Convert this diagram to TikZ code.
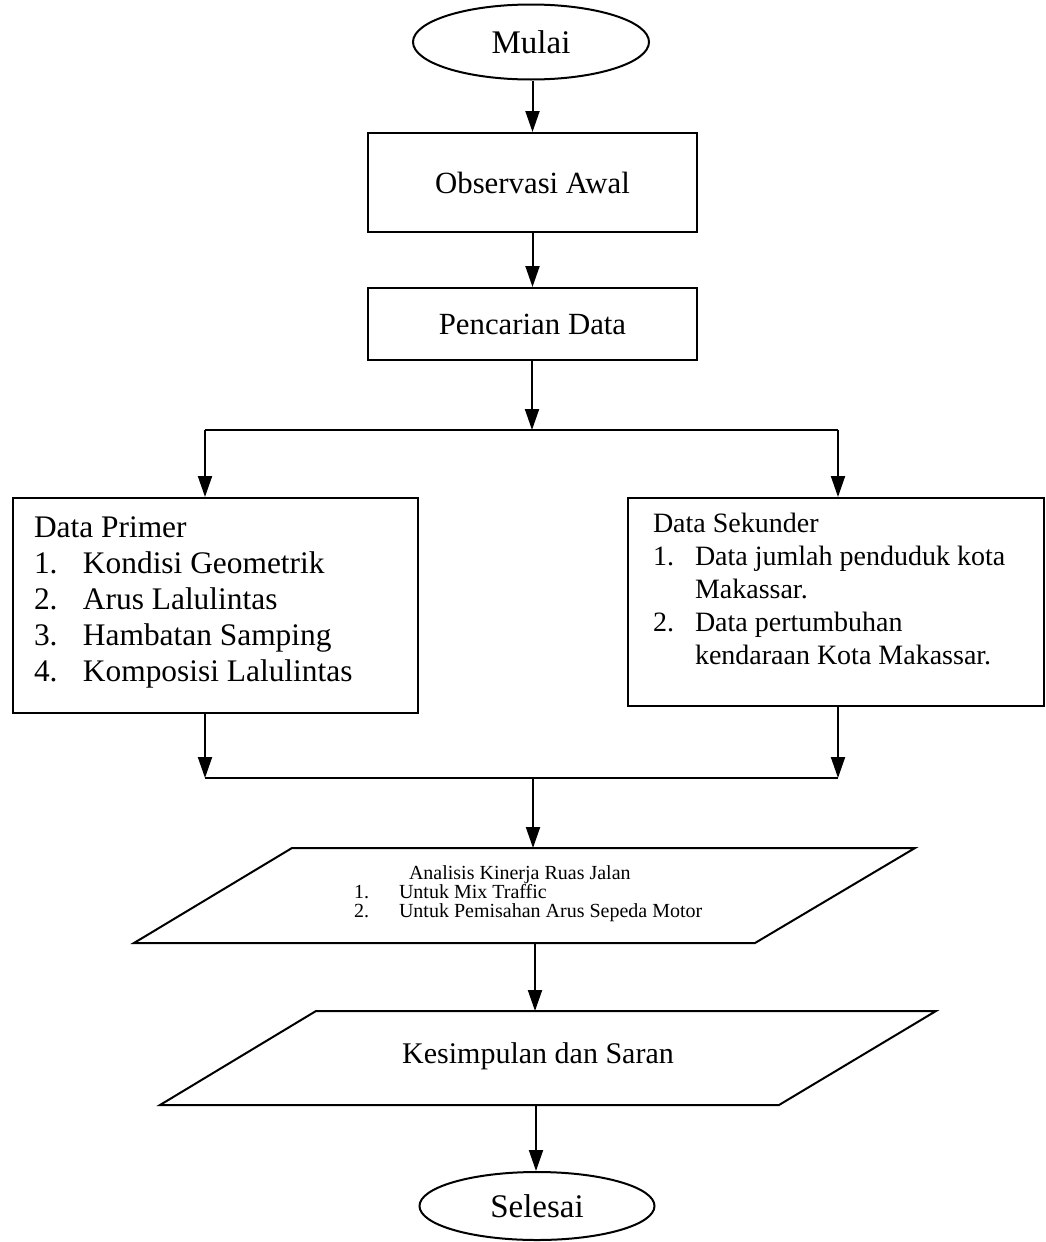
\documentclass[tikz,border=0pt]{standalone}
\usepackage{fontspec}
\setmainfont{Liberation Serif}
\usetikzlibrary{shapes.geometric,arrows.meta}
\begin{document}
\begin{tikzpicture}[x=0.5pt,y=-0.5pt,
  line width=1pt,
  arr/.style={-{Triangle[length=10.5pt,width=7pt]}},
  proc/.style={draw,rectangle,inner sep=0pt,font=\fontsize{15.4pt}{18.5pt}\selectfont},
  term/.style={draw,ellipse,inner sep=0pt,font=\fontsize{16.5pt}{19pt}\selectfont},
  para/.style={line join=miter},
  txt/.style={inner sep=0pt,align=left}
  ]
\useasboundingbox (0,0) rectangle (1045,1242);

% terminals and process boxes
\node[term,minimum width=118pt,minimum height=37.5pt] (mulai) at (531,42) {Mulai};
\node[proc,minimum width=164.5pt,minimum height=49.5pt] (obs) at (532.5,182.5) {Observasi Awal};
\node[proc,minimum width=164.5pt,minimum height=36pt] (pen) at (532.5,324) {Pencarian Data};

% data boxes
\node[proc,anchor=north west,minimum width=202.5pt,minimum height=107.5pt] (primer) at (12,497) {};
\node[txt,anchor=base west] (primertxt) at (33,537)
  {\fontsize{15.7pt}{18.1pt}\selectfont
   \begin{tabular}[t]{@{}l@{}l@{}}
   \multicolumn{2}{@{}l@{}}{Data Primer}\\
   \makebox[24.5pt][l]{1.} & Kondisi Geometrik\\
   \makebox[24.5pt][l]{2.} & Arus Lalulintas\\
   \makebox[24.5pt][l]{3.} & Hambatan Samping\\
   \makebox[24.5pt][l]{4.} & Komposisi Lalulintas
   \end{tabular}};

\node[proc,anchor=north west,minimum width=208pt,minimum height=104pt] (sekunder) at (627,497) {};
\node[txt,anchor=base west] (sekundertxt) at (652,532)
  {\fontsize{14pt}{16.5pt}\selectfont
   \begin{tabular}[t]{@{}l@{}l@{}}
   \multicolumn{2}{@{}l@{}}{Data Sekunder}\\
   \makebox[21pt][l]{1.} & Data jumlah penduduk kota\\
   & Makassar.\\
   \makebox[21pt][l]{2.} & Data pertumbuhan\\
   & kendaraan Kota Makassar.
   \end{tabular}};

% parallelogram 1
\coordinate (p1tl) at (292,848);
\coordinate (p1tr) at (915,848);
\coordinate (p1br) at (755,943);
\coordinate (p1bl) at (134,943);
\draw[para] (p1tl) -- (p1tr) -- (p1br) -- (p1bl) -- cycle;
\node[txt,anchor=base west] (analisis) at (353,879)
  {\fontsize{10pt}{9pt}\selectfont
   \begin{tabular}[t]{@{}l@{}l@{}}
   \multicolumn{2}{@{}l@{}}{\hspace{27.5pt}Analisis Kinerja Ruas Jalan}\\
   \makebox[22.5pt][l]{1.} & Untuk Mix Traffic\\
   \makebox[22.5pt][l]{2.} & Untuk Pemisahan Arus Sepeda Motor
   \end{tabular}};
\coordinate (p1in) at (533,848);
\coordinate (p1out) at (535,943);

% parallelogram 2
\coordinate (p2tl) at (316,1011);
\coordinate (p2tr) at (936,1011);
\coordinate (p2br) at (779,1105);
\coordinate (p2bl) at (160,1105);
\draw[para] (p2tl) -- (p2tr) -- (p2br) -- (p2bl) -- cycle;
\node[inner sep=0pt,anchor=base,font=\fontsize{15pt}{18pt}\selectfont] (kesimpulan) at (538,1063) {Kesimpulan dan Saran};
\coordinate (p2in) at (535,1011);
\coordinate (p2out) at (536,1105);

\node[term,minimum width=117.5pt,minimum height=34pt] (selesai) at (537,1206) {Selesai};

% junction coordinates
\coordinate (h1m) at (532,430);
\coordinate (h1l) at (205,430);
\coordinate (h1r) at (838,430);
\coordinate (h2l) at (205,778);
\coordinate (h2r) at (838,778);
\coordinate (h2m) at (533,778);

% connectors
\draw[arr] (mulai.south -| obs.north) -- (obs.north);
\draw[arr] (obs.south) -- (pen.north);
\draw[arr] (pen.south -| h1m) -- (h1m);
\draw (h1l) -- (h1r);
\draw[arr] (h1l) -- (primer.north -| h1l);
\draw[arr] (h1r) -- (sekunder.north -| h1r);
\draw[arr] (primer.south -| h2l) -- (h2l);
\draw[arr] (sekunder.south -| h2r) -- (h2r);
\draw (h2l) -- (h2r);
\draw[arr] (h2m) -- (p1in);
\draw[arr] (p1out) -- (p2in);
\draw[arr] (p2out) -- (selesai.north -| p2out);
\end{tikzpicture}
\end{document}
